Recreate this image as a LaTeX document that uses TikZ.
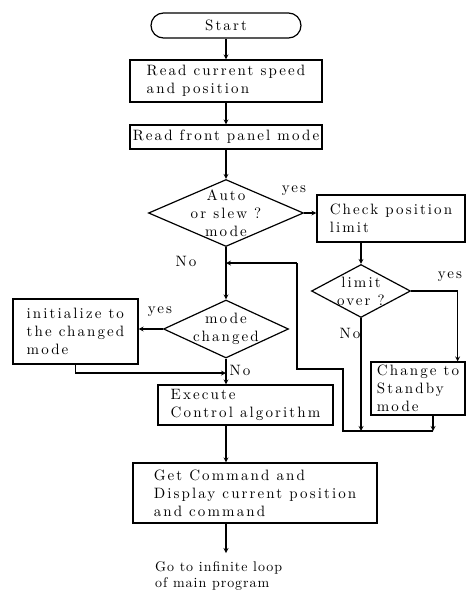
\documentclass[tikz,border=0pt]{standalone}
\usepackage{fontspec}
\usetikzlibrary{shapes.geometric,arrows,positioning,calc}

\newfontfamily\flowfam{lmroman10-regular.otf}[LetterSpace=14]
\newfontfamily\notefam{lmroman10-regular.otf}[LetterSpace=7]
\newcommand{\flowfont}{\flowfam\fontsize{15}{18}\selectfont}
\newcommand{\notefont}{\notefam\fontsize{14}{16}\selectfont}

\begin{document}
\begin{tikzpicture}[x=1pt, y=-1pt, font=\flowfont]

% Define styles
\tikzstyle{startstop} = [rectangle, rounded corners=12.5pt, minimum width=150pt, minimum height=25pt, draw=black, line width=1.2pt]
\tikzstyle{process} = [rectangle, draw=black, line width=1.2pt, align=left, inner sep=0pt]
\tikzstyle{decision} = [diamond, draw=black, line width=1.2pt, inner sep=0pt]
\tikzstyle{branch} = [inner sep=0pt]
\tikzstyle{arrow} = [line width=1.2pt, ->, >=stealth]
\tikzstyle{flowline} = [line width=1.2pt]

\useasboundingbox (0,0) rectangle (471,597);

% Main column
\node (start) [startstop] at (226,25.5) {Start};
\node (read_pos) [process, minimum width=192pt, minimum height=42pt] at (226,81) {Read current speed\\and position};
\node (read_mode) [process, minimum width=192pt, minimum height=24pt] at (226,137) {Read front panel mode};
\node (auto) [decision, minimum width=155pt, minimum height=67pt, label={[align=center]center:Auto\\or slew ?\\mode}] at (226,213) {};
\node (mode_ch) [decision, minimum width=125pt, minimum height=58pt, label={[align=center]center:mode\\changed}] at (226,329) {};
\node (init) [process, minimum width=125pt, minimum height=65pt] at (75.5,331.5) {initialize to\\the changed\\mode};
\node (exec) [process, minimum width=175pt, minimum height=40pt] at (245.5,405) {Execute\\Control algorithm};
\node (get_cmd) [process, minimum width=244pt, minimum height=60pt] at (255,493) {Get Command and\\Display current position\\and command};
\node (loop) [font=\notefont, align=left, anchor=north west, inner sep=0pt] at (155,561) {Go to infinite loop\\of main program};

% Limit check side
\node (check) [process, minimum width=148pt, minimum height=47pt] at (391,218.5) {Check position\\limit};
\node (limit) [decision, minimum width=99pt, minimum height=53pt, label={[align=center]center:limit\\over ?}] at (361,291) {};
\node (standby) [process, minimum width=94pt, minimum height=53pt] at (418,388.5) {Change to\\Standby\\mode};

% Branch labels
\node (yes_auto) [branch] at (294,191) {yes};
\node (no_auto) [branch] at (186,261) {No};
\node (yes_mode) [branch] at (160,312) {yes};
\node (no_mode) [branch] at (240,370) {No};
\node (yes_limit) [branch] at (450,277) {yes};
\node (no_limit) [branch] at (350,333) {No};

% Return path
\coordinate (ret_a) at (433,431);
\coordinate (ret_b) at (343,431);
\coordinate (ret_c) at (343,369);
\coordinate (ret_d) at (297,369);
\coordinate (ret_e) at (297,263);
\coordinate (join_init) at (226,373);
\coordinate (loop_in) at (226,553);

% Connect main column
\draw [arrow] (start) -- (read_pos);
\draw [arrow] (read_pos) -- (read_mode);
\draw [arrow] (read_mode) -- (auto);
\draw [arrow] (auto) -- (mode_ch);
\draw [arrow] (mode_ch.west) -- (mode_ch.west -| init.east);
\draw [arrow] (init.south) |- (join_init);
\draw [arrow] (mode_ch.south) -- (mode_ch.south |- exec.north);
\draw [arrow] (exec.south -| loop_in) -- (get_cmd.north -| loop_in);
\draw [arrow] (get_cmd.south -| loop_in) -- (loop_in);

% Connect limit check
\draw [arrow] (auto.east) -- (auto.east -| check.west);
\draw [arrow] (check.south -| limit.north) -- (limit.north);
\draw [arrow] (limit.east) -| ([xshift=-8pt]standby.north east);
\draw [arrow] (limit.south) -- (limit.south |- ret_b);
\draw [arrow] (ret_a |- standby.south) -- (ret_a);
\draw [flowline] (ret_a) -- (ret_b) -- (ret_c) -- (ret_d) -- (ret_e);
\draw [arrow] (ret_e) -- (ret_e -| auto.south);

\end{tikzpicture}
\end{document}
